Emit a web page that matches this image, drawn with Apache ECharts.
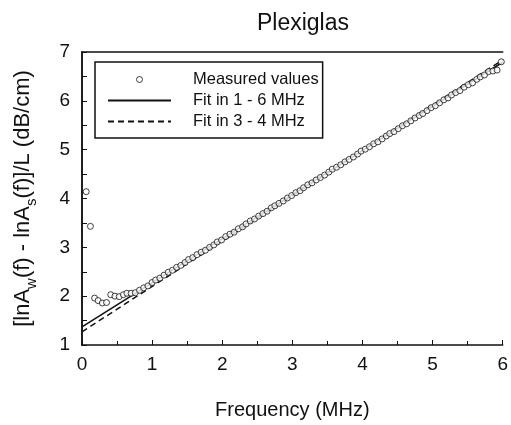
<!DOCTYPE html>
<html>
<head>
<meta charset="utf-8">
<script src="https://cdn.jsdelivr.net/npm/echarts@6/dist/echarts.min.js"></script>
<style>html,body{margin:0;padding:0;background:#fff}#c{width:511px;height:425px}</style>
</head>
<body>
<div id="c"></div>
<script>
var freq = [0.06,0.12,0.18,0.23,0.29,0.35,0.41,0.47,0.53,0.59,0.64,0.70,0.76,0.82,0.88,0.94,1.00,1.05,1.11,1.17,1.23,1.29,1.35,1.41,1.47,1.52,1.58,1.64,1.70,1.76,1.82,1.88,1.93,1.99,2.05,2.11,2.17,2.23,2.29,2.34,2.40,2.46,2.52,2.58,2.64,2.70,2.75,2.81,2.87,2.93,2.99,3.05,3.11,3.16,3.22,3.28,3.34,3.40,3.46,3.52,3.57,3.63,3.69,3.75,3.81,3.87,3.93,3.98,4.04,4.10,4.16,4.22,4.28,4.34,4.39,4.45,4.51,4.57,4.63,4.69,4.75,4.81,4.86,4.92,4.98,5.04,5.10,5.16,5.22,5.27,5.33,5.39,5.45,5.51,5.57,5.63,5.68,5.74,5.80,5.86,5.92,5.98];
var measured = [4.14,3.43,1.96,1.91,1.86,1.87,2.03,2.00,1.99,2.03,2.06,2.06,2.07,2.12,2.17,2.21,2.28,2.33,2.37,2.43,2.49,2.53,2.59,2.63,2.69,2.75,2.79,2.85,2.90,2.94,3.00,3.05,3.11,3.15,3.22,3.27,3.31,3.38,3.42,3.48,3.54,3.58,3.64,3.69,3.74,3.81,3.85,3.90,3.95,4.01,4.06,4.12,4.16,4.22,4.28,4.32,4.38,4.43,4.48,4.54,4.60,4.64,4.69,4.75,4.80,4.85,4.91,4.97,5.01,5.06,5.12,5.16,5.22,5.28,5.33,5.37,5.43,5.49,5.53,5.59,5.65,5.70,5.74,5.80,5.86,5.90,5.96,6.02,6.06,6.12,6.17,6.21,6.28,6.33,6.37,6.44,6.49,6.53,6.60,6.61,6.63,6.80];
var fitFreq = [0, 6];
var fit16 = [1.37, 6.79];
var fit34 = [1.27, 6.84];
var xTicks = [0,1,2,3,4,5,6];
var yTicks = [1,2,3,4,5,6,7];

function pairs(xs, ys){ return xs.map(function(x,i){ return [x, ys[i]]; }); }

var FONT = 'Liberation Sans';
var chart = echarts.init(document.getElementById('c'), null, {renderer:'canvas'});
chart.setOption({
  animation:false,
  backgroundColor:'#fff',
  textStyle:{fontFamily:FONT,color:'#111'},
  title:{text:'Plexiglas',left:298,top:7,textAlign:'center',textStyle:{fontFamily:FONT,fontSize:23,fontWeight:'normal',color:'#111'}},
  grid:{left:82,right:6,top:52,bottom:80,containLabel:false},
  legend:{
    orient:'vertical',left:95,top:62,
    backgroundColor:'#fff',borderColor:'#111',borderWidth:1.5,borderRadius:0,
    padding:[9,4,8,12],
    itemWidth:63,itemHeight:6,itemGap:4,
    textStyle:{fontFamily:FONT,fontSize:16.5,color:'#111',padding:[0,0,0,17]},
    data:[
      {name:'Measured values',itemStyle:{borderWidth:1,color:'#fff',borderColor:'#111'}},
      {name:'Fit in 1 - 6 MHz',itemStyle:{opacity:0,color:'rgba(0,0,0,0)',borderWidth:0}},
      {name:'Fit in 3 - 4 MHz',itemStyle:{opacity:0,color:'rgba(0,0,0,0)',borderWidth:0}}
    ]
  },
  xAxis:[{
    type:'value',min:0,max:6,interval:1,
    axisLine:{lineStyle:{color:'#111',width:1.5}},
    axisTick:{inside:true,length:5,lineStyle:{color:'#111',width:1}},
    minorTick:{show:true,splitNumber:2,length:4,lineStyle:{color:'#111',width:1}},
    splitLine:{show:false},
    axisLabel:{fontFamily:FONT,fontSize:19,color:'#111',margin:10},
    name:'Frequency (MHz)',nameLocation:'middle',nameGap:55,
    nameTextStyle:{fontFamily:FONT,fontSize:20,color:'#111'}
  },{
    type:'value',min:0,max:6,position:'top',
    axisLine:{show:true,lineStyle:{color:'#111',width:1.5}},
    axisTick:{show:false},axisLabel:{show:false},splitLine:{show:false}
  }],
  yAxis:[{
    type:'value',min:1,max:7,interval:1,
    axisLine:{show:true,lineStyle:{color:'#111',width:1.5}},
    axisTick:{show:true,inside:true,length:5,lineStyle:{color:'#111',width:1}},
    minorTick:{show:true,splitNumber:2,length:5,lineStyle:{color:'#111',width:1}},
    splitLine:{show:false},
    axisLabel:{fontFamily:FONT,fontSize:19,color:'#111',margin:12},
    name:'{a|[lnA}{s|w}{a|(f) - lnA}{s|s}{a|(f)]/L (dB/cm)}',
    nameLocation:'middle',nameGap:48,nameRotate:90,
    nameTextStyle:{fontFamily:FONT,fontSize:22,color:'#111',
      rich:{
        a:{fontFamily:FONT,fontSize:22,color:'#111',lineHeight:26,verticalAlign:'bottom'},
        s:{fontFamily:FONT,fontSize:15,color:'#111',lineHeight:26,verticalAlign:'bottom',padding:[0,0,-5,0]}
      }}
  },{
    type:'value',min:1,max:7,position:'right',
    axisLine:{show:true,lineStyle:{color:'#111',width:1.5}},
    axisTick:{show:false},axisLabel:{show:false},splitLine:{show:false}
  }],
  series:[
    {name:'Measured values',type:'scatter',data:pairs(freq,measured),
      symbol:'circle',symbolSize:6,symbolKeepAspect:true,
      itemStyle:{color:'#fff',borderColor:'#111',borderWidth:1},z:3},
    {name:'Fit in 1 - 6 MHz',type:'line',data:pairs(fitFreq,fit16),symbol:'none',
      lineStyle:{color:'#111',width:1.5,type:'solid'},itemStyle:{color:'#111'},z:2},
    {name:'Fit in 3 - 4 MHz',type:'line',data:pairs(fitFreq,fit34),symbol:'none',
      lineStyle:{color:'#111',width:1.5,type:[6,4]},itemStyle:{color:'#111'},z:2}
  ]
});
</script>
</body>
</html>
